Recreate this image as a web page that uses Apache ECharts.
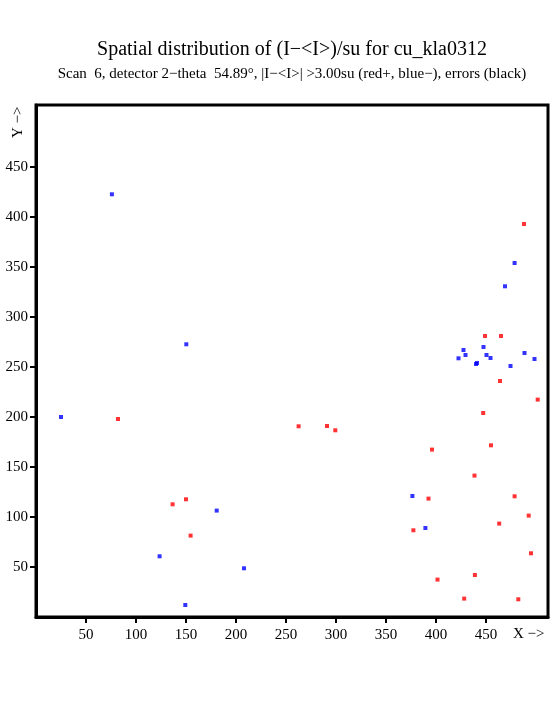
<!DOCTYPE html>
<html><head><meta charset="utf-8">
<script src="https://cdn.jsdelivr.net/npm/echarts@6/dist/echarts.min.js"></script>
<style>html,body{margin:0;padding:0;background:#fff}#c{width:555px;height:725px}</style>
</head><body><div id="c"></div>
<script>
const xTicks = [50,100,150,200,250,300,350,400,450];
const yTicks = [50,100,150,200,250,300,350,400,450];
const redPoints = [
  [488,393],[82,198],[262.6,190.7],[291,191],[299.3,186.7],
  [136.6,112.7],[150,117.7],[154.6,81.4],
  [501.7,217.4],[447.2,204],[455,171.7],[396,167.4],[438.5,141.4],
  [392.5,118.4],[478.6,120.7],[492.7,101.4],[463.2,93.4],[377.4,86.7],
  [495,63.7],[438.9,42],[401.5,37.4],[428.2,18.4],[482.3,17.7],
  [449,281],[465,281],[464,236]
];
const bluePoints = [
  [75.9,422.7],[25,200],[150.3,272.7],[180.7,106.4],[123.6,60.7],
  [208,48.7],[149.3,12],[376.4,121],[389.4,89],
  [422.5,258.7],[427.5,267],[429.5,262],[440,253],[441,254],
  [447.5,270],[450.5,262],[454.5,259],[469,330.7],[478.6,354],
  [474.5,251],[488.5,264],[498.5,258]
];
const serif = '"Liberation Serif","DejaVu Serif",serif';
const chart = echarts.init(document.getElementById('c'), null, {renderer:'canvas'});
chart.setOption({
  animation:false,
  backgroundColor:'#fff',
  grid:{left:36, top:105, width:512, height:512, show:true, borderColor:'#000', borderWidth:3, backgroundColor:'transparent'},
  xAxis:{type:'value', min:0, max:512, interval:50,
    splitLine:{show:false},
    axisLine:{show:true, onZero:false, lineStyle:{color:'#000', width:3}},
    axisTick:{show:true, length:6, customValues:xTicks, lineStyle:{color:'#000', width:2}},
    axisLabel:{show:true, customValues:xTicks, margin:11, fontFamily:serif, fontSize:15, color:'#000'}
  },
  yAxis:{type:'value', min:0, max:512, interval:50,
    splitLine:{show:false},
    axisLine:{show:true, onZero:false, lineStyle:{color:'#000', width:3}},
    axisTick:{show:true, length:6, customValues:yTicks, lineStyle:{color:'#000', width:2}},
    axisLabel:{show:true, customValues:yTicks, margin:8, fontFamily:serif, fontSize:15, color:'#000'}
  },
  graphic:[
    {type:'text', x:292, y:40, style:{text:'Spatial distribution of (I\u2212<I>)/su for cu_kla0312', textAlign:'center', fontFamily:serif, fontSize:20, fill:'#000'}},
    {type:'text', x:292, y:67, style:{text:'Scan  6, detector 2\u2212theta  54.89\u00b0, |I\u2212<I>| >3.00su (red+, blue\u2212), errors (black)', textAlign:'center', fontFamily:serif, fontSize:15, fill:'#000'}},
    {type:'text', left:513, top:627, style:{text:'X \u2212>', fontFamily:serif, fontSize:15, fill:'#000'}},
    {type:'text', x:11, y:138, rotation:Math.PI/2, style:{text:'Y \u2212>', fontFamily:serif, fontSize:15, fill:'#000'}}
  ],
  series:[
    {type:'scatter', data:redPoints, symbol:'rect', symbolSize:4, itemStyle:{color:'#ff0000'}},
    {type:'scatter', data:bluePoints, symbol:'rect', symbolSize:4, itemStyle:{color:'#0000ff'}}
  ]
});
</script></body></html>
